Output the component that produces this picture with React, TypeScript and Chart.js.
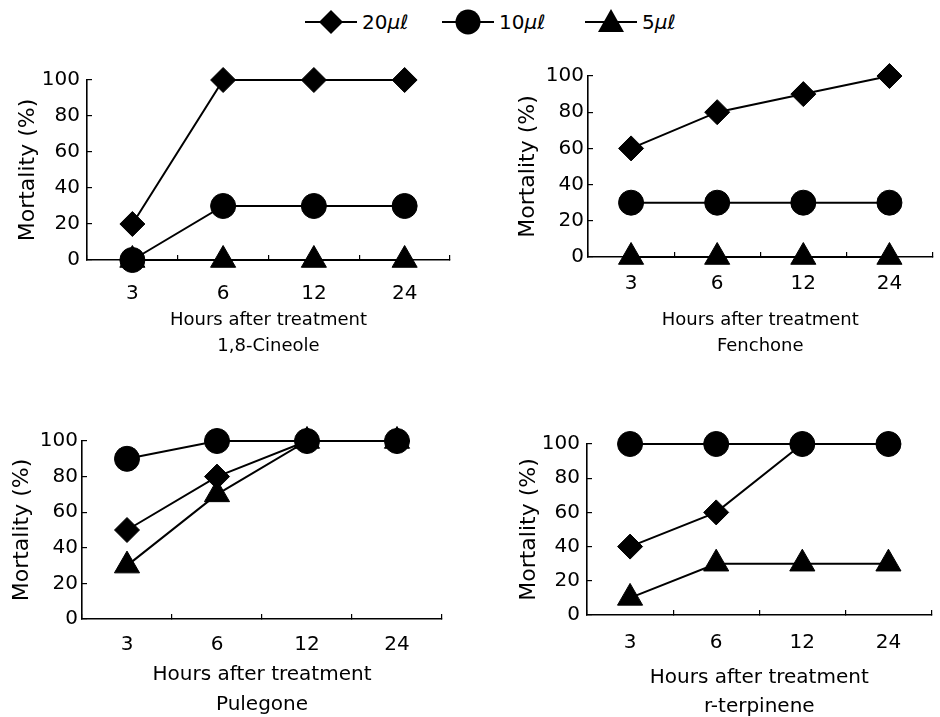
import React, { useEffect, useRef } from "react";
import { Chart, registerables } from "chart.js";
Chart.register(...registerables);

// ---------- data ----------
const hours = ["3", "6", "12", "24"];
const seriesNames = ["20μℓ", "10μℓ", "5μℓ"];
const yTicks = [0, 20, 40, 60, 80, 100];
const xTitle = "Hours after treatment";
const yTitle = "Mortality (%)";
const compounds = ["1,8-Cineole", "Fenchone", "Pulegone", "r-terpinene"];

const cineole20 = [20, 100, 100, 100];
const cineole10 = [0, 30, 30, 30];
const cineole5 = [0, 0, 0, 0];

const fenchone20 = [60, 80, 90, 100];
const fenchone10 = [30, 30, 30, 30];
const fenchone5 = [0, 0, 0, 0];

const pulegone20 = [50, 80, 100, 100];
const pulegone10 = [90, 100, 100, 100];
const pulegone5 = [30, 70, 100, 100];

const terpinene20 = [40, 60, 100, 100];
const terpinene10 = [100, 100, 100, 100];
const terpinene5 = [10, 30, 30, 30];

const panelData = [
  [cineole20, cineole10, cineole5],
  [fenchone20, fenchone10, fenchone5],
  [pulegone20, pulegone10, pulegone5],
  [terpinene20, terpinene10, terpinene5],
];

// ---------- styling / layout ----------
const FONT = "'DejaVu Sans', sans-serif";
const pointStyles = ["rectRot", "circle", "triangle"];
const pointRadii = [12.5, 12.5, 14.5];

const layouts = [
  { left: 0, top: 55, width: 470, height: 310, padTop: 25, padRight: 20, yWidth: 87, xHeight: 105, xTickPad: 27, yTickPad: 12, yTitlePad: 15, tSize: 18, tLH: 1.4, tPadB: 6.4 },
  { left: 470, top: 55, width: 478, height: 310, padTop: 21, padRight: 0, yWidth: 118, xHeight: 108, xTickPad: 20, yTickPad: 9, yTitlePad: 45, tSize: 18, tLH: 1.4, tPadB: 6.4 },
  { left: 0, top: 420, width: 470, height: 310, padTop: 21, padRight: 28, yWidth: 82, xHeight: 111, xTickPad: 19, yTickPad: 9, yTitlePad: 9, tSize: 20, tLH: 1.5, tPadB: 10 },
  { left: 470, top: 420, width: 477, height: 310, padTop: 15, padRight: 0, yWidth: 117, xHeight: 115, xTickPad: 21, yTickPad: 12, yTitlePad: 46, tSize: 20, tLH: 1.45, tPadB: 8.5 },
];

function Panel({ idx }: { idx: number }) {
  const ref = useRef<HTMLCanvasElement | null>(null);
  const L = layouts[idx];
  useEffect(() => {
    if (!ref.current) return;
    const data = panelData[idx];
    const chart = new Chart(ref.current, {
      type: "line",
      data: {
        labels: hours,
        datasets: data.map((vals, i) => ({
          label: seriesNames[i],
          data: vals,
          borderColor: "#000",
          backgroundColor: "#000",
          borderWidth: 2,
          pointStyle: pointStyles[i] as any,
          pointRadius: pointRadii[i],
          pointBackgroundColor: "#000",
          pointBorderColor: "#000",
          pointBorderWidth: 1,
          tension: 0,
          clip: false as any,
        })),
      },
      options: {
        animation: false,
        responsive: false,
        events: [],
        layout: { padding: { top: L.padTop, right: L.padRight, left: 0, bottom: 0 } },
        plugins: { legend: { display: false }, tooltip: { enabled: false } },
        scales: {
          x: {
            type: "category",
            offset: true,
            grid: { display: true, drawOnChartArea: false, drawTicks: true, tickLength: -5, color: "#000", lineWidth: 1.2, offset: true },
            border: { display: true, color: "#000", width: 1.6 },
            ticks: { color: "#000", font: { family: FONT, size: 20 }, padding: L.xTickPad, maxRotation: 0 },
            title: {
              display: true,
              text: [xTitle, compounds[idx]],
              color: "#000",
              font: { family: FONT, size: L.tSize, lineHeight: L.tLH },
              padding: { top: 0, bottom: L.tPadB },
            },
            afterFit: (s: any) => { s.height = L.xHeight; },
          },
          y: {
            min: yTicks[0],
            max: yTicks[yTicks.length - 1],
            afterBuildTicks: (s: any) => { s.ticks = yTicks.map((v) => ({ value: v })); },
            grid: { display: true, drawOnChartArea: false, drawTicks: true, tickLength: -5, color: "#000", lineWidth: 1.2 },
            border: { display: true, color: "#000", width: 1.6 },
            ticks: { color: "#000", font: { family: FONT, size: 20 }, padding: L.yTickPad },
            title: {
              display: true,
              text: yTitle,
              color: "#000",
              font: { family: FONT, size: 22, lineHeight: 1.2 },
              padding: { top: L.yTitlePad, bottom: 0 },
            },
            afterFit: (s: any) => { s.width = L.yWidth; },
          },
        },
      } as any,
    });
    return () => chart.destroy();
  }, [idx]);
  return (
    <canvas
      ref={ref}
      width={L.width}
      height={L.height}
      style={{ position: "absolute", left: L.left, top: L.top, width: L.width, height: L.height }}
    />
  );
}

function Marker({ kind }: { kind: number }) {
  return (
    <svg width={52} height={26} style={{ display: "block" }}>
      <line x1={0} y1={13} x2={52} y2={13} stroke="#000" strokeWidth={2} />
      {kind === 0 && <polygon points="26,1 38,13 26,25 14,13" fill="#000" />}
      {kind === 1 && <circle cx={26} cy={13} r={12.5} fill="#000" />}
      {kind === 2 && <polygon points="26,0 39,23 13,23" fill="#000" />}
    </svg>
  );
}

const legendLefts = [305, 442, 585];

function Legend() {
  return (
    <>
      {seriesNames.map((name, i) => {
        const num = name.replace("μℓ", "");
        return (
          <div
            key={name}
            style={{ position: "absolute", left: legendLefts[i], top: 9, display: "flex", alignItems: "center", height: 26 }}
          >
            <Marker kind={i} />
            <span style={{ marginLeft: 5, fontFamily: FONT, fontSize: 20, color: "#000", lineHeight: "26px", whiteSpace: "nowrap" }}>
              {num}
              <i>μℓ</i>
            </span>
          </div>
        );
      })}
    </>
  );
}

export default function App() {
  return (
    <div style={{ position: "absolute", left: 0, top: 0, width: 940, height: 717, overflow: "hidden", background: "#fff" }}>
      <Legend />
      {layouts.map((_, i) => (
        <Panel key={i} idx={i} />
      ))}
    </div>
  );
}
